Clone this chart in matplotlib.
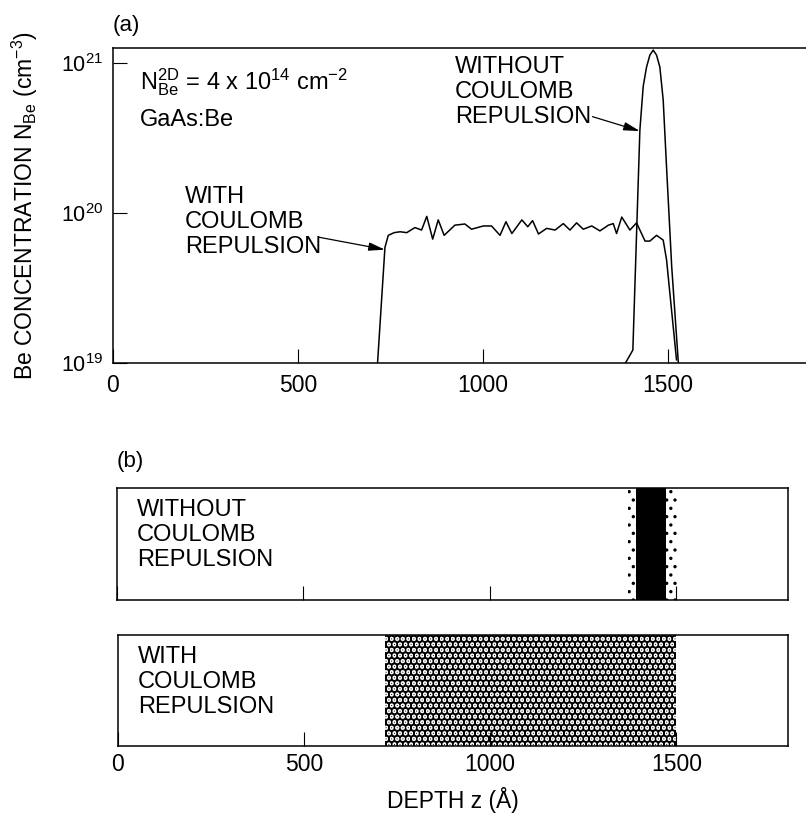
"""Be depth profile in GaAs:Be with / without Coulomb repulsion -> out.png."""

import matplotlib

matplotlib.use("Agg")
import matplotlib.pyplot as plt

plt.rcParams["font.family"] = ["Liberation Sans", "DejaVu Sans"]
plt.rcParams["mathtext.fontset"] = "custom"
plt.rcParams["mathtext.rm"] = "Liberation Sans"
plt.rcParams["mathtext.it"] = "Liberation Sans"

# ---------------------------------------------------------------------------
# Data
# ---------------------------------------------------------------------------

# (a) concentration profiles, depth in Angstrom, N_Be in units of 1e19 cm^-3
with_z = [715, 735, 744, 760, 776, 794, 816, 834, 848, 864, 879, 895, 924,
          951, 969, 1001, 1023, 1046, 1062, 1078, 1105, 1121, 1134, 1150,
          1172, 1195, 1217, 1235, 1253, 1271, 1294, 1316, 1339, 1352, 1361,
          1375, 1397, 1415, 1438, 1451, 1469, 1487, 1496, 1523]
with_n = [1.0, 5.9, 7.1, 7.4, 7.5, 7.4, 8.0, 7.7, 9.5, 6.7, 9.0, 7.1, 8.3,
          8.45, 7.8, 8.2, 8.2, 7.1, 8.75, 7.3, 9.0, 8.1, 8.9, 7.25,
          7.9, 7.7, 8.5, 7.7, 8.6, 7.8, 8.2, 7.6, 8.3, 8.5, 7.3,
          9.4, 7.7, 8.6, 6.5, 6.5, 7.1, 6.6, 4.9, 1.05]

without_z = [1385, 1405, 1424, 1433, 1442, 1451, 1460, 1469, 1478, 1487,
             1496, 1510, 1528]
without_n = [1.0, 1.22, 35.7, 70, 94, 113, 122, 113, 94, 56.7, 20.4, 4.4, 1.0]

# (b) extents of the atom clouds (Angstrom)
without_core = [1392, 1472]
without_fringe = [1372, 1503]
with_cloud = [716, 1498]

x_ticks = [0, 500, 1000, 1500]
y_ticks = [1e19, 1e20, 1e21]

# ---------------------------------------------------------------------------
# Figure
# ---------------------------------------------------------------------------

W, H = 806, 815
fig = plt.figure(figsize=(W / 100, H / 100), dpi=100)

TXT = dict(fontsize=17, ha="left", va="center", linespacing=1.17)
ARROW = dict(arrowstyle="-|>,head_length=0.7,head_width=0.18", color="black",
             lw=0.9, mutation_scale=14, shrinkA=0, shrinkB=0)


def _rect(x0, y0, x1, y1):
    """Pixel box (top-left origin) -> figure fraction rect."""
    return [x0 / W, 1 - y1 / H, (x1 - x0) / W, (y1 - y0) / H]


# ---- panel (a) -------------------------------------------------------------
ax = fig.add_axes(_rect(113, 48, W, 363))
ax.plot(with_z, [v * 1e19 for v in with_n], color="black", lw=1.1)
ax.plot(without_z, [v * 1e19 for v in without_n], color="black", lw=1.1)
ax.set_yscale("log")
ax.set_xlim(0, (W - 113) / 0.37)
ax.set_ylim(1e19, 1.26e21)
ax.set_xticks(x_ticks)
ax.set_yticks(y_ticks)
ax.minorticks_off()
ax.spines["right"].set_visible(False)
for s in ax.spines.values():
    s.set_linewidth(1.1)
ax.tick_params(direction="in", length=10, width=0.8, labelsize=16.5, pad=8)
ax.tick_params(axis="y", labelsize=15.5, pad=7)
ax.set_ylabel(r"Be CONCENTRATION N$_{\mathrm{Be}}$ (cm$^{-3}$)", fontsize=16.5)
ax.yaxis.set_label_coords(-0.105, 0.5)

ax.text(0.0, 1.07, "(a)", transform=ax.transAxes, fontsize=16,
        ha="left", va="center")
ax.text(73, 7.5e20, r"N$_{\mathrm{Be}}^{\mathrm{2D}}$ = 4 x 10$^{14}$ cm$^{-2}$",
        fontsize=17, ha="left", va="center")
ax.text(73, 4.17e20, "GaAs:Be", fontsize=17, ha="left", va="center")

ax.text(195, 8.7e19, "WITH\nCOULOMB\nREPULSION", **TXT)
ax.annotate("", xy=(735, 5.7e19), xytext=(556, 6.9e19), arrowprops=ARROW)
ax.text(924, 6.41e20, "WITHOUT\nCOULOMB\nREPULSION", **TXT)
ax.annotate("", xy=(1424, 3.52e20), xytext=(1296, 4.39e20), arrowprops=ARROW)

# ---- panel (b) -------------------------------------------------------------
bx1 = fig.add_axes(_rect(117, 488, 788, 600))
bx2 = fig.add_axes(_rect(118, 635, 788, 746))

for b in (bx1, bx2):
    b.set_xlim(0, 1800)
    b.set_ylim(0, 1)
    b.set_xticks(x_ticks)
    b.set_yticks([])
    b.tick_params(direction="in", length=10, width=0.8, labelsize=16.5, pad=5)
    for s in b.spines.values():
        s.set_linewidth(1.1)
bx1.tick_params(labelbottom=False)

# without repulsion: dark core with sparse stippled edges
plt.rcParams["hatch.linewidth"] = 1.2
bx1.axvspan(*without_fringe, facecolor="none", edgecolor="black",
            hatch="..", linewidth=0)
bx1.axvspan(*without_core, facecolor="black", edgecolor="none")
# with repulsion: coarse stippled cloud
plt.rcParams["hatch.linewidth"] = 4.0
bx2.axvspan(*with_cloud, facecolor="none", edgecolor="black",
            hatch="...", linewidth=0)

bx1.text(0.03, 0.58, "WITHOUT\nCOULOMB\nREPULSION", transform=bx1.transAxes,
         **TXT)
bx2.text(0.03, 0.577, "WITH\nCOULOMB\nREPULSION", transform=bx2.transAxes,
         **TXT)
bx1.text(0.0, 1.24, "(b)", transform=bx1.transAxes, fontsize=16,
         ha="left", va="center")
bx2.set_xlabel("DEPTH z (Å)", fontsize=16.5, labelpad=8)

fig.savefig("out.png", dpi=100)
